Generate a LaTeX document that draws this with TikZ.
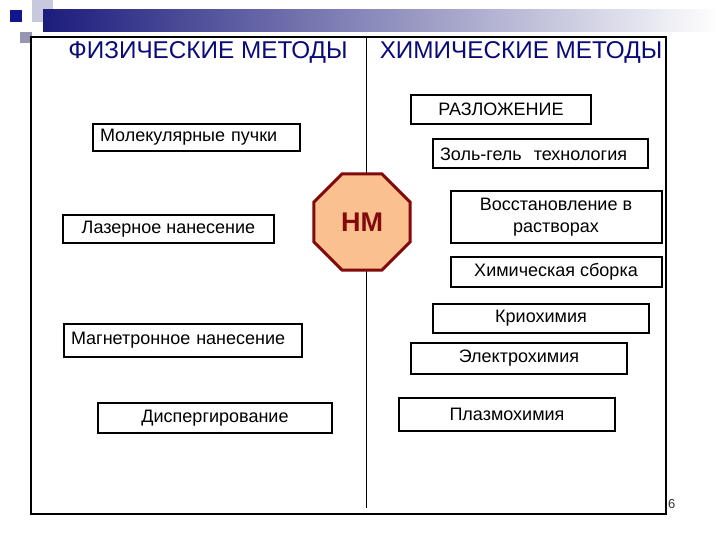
\documentclass[tikz,border=0pt]{standalone}
\usepackage{fontspec}
\setmainfont{Liberation Sans}
\usetikzlibrary{shapes.geometric}
\definecolor{navyt}{RGB}{10,10,120}
\definecolor{bardark}{RGB}{28,28,124}
\definecolor{sqdark}{RGB}{20,20,140}
\definecolor{sqlav}{RGB}{200,200,222}
\definecolor{sqgray}{RGB}{150,150,178}
\definecolor{octfill}{RGB}{250,192,144}
\definecolor{octline}{RGB}{130,10,10}
\tikzset{
  mbox/.style={draw=black, line width=2pt, inner sep=0pt, font=\fontsize{18}{21}\selectfont, align=center},
  lbox/.style={mbox, align=left},
  head/.style={font=\fontsize{24.3}{28}\selectfont, text=navyt, inner sep=0pt, anchor=base},
}
\begin{document}
\begin{tikzpicture}[x=1pt,y=-1pt]
\useasboundingbox (0,0) rectangle (720,540);
% decoration
\fill[sqlav] (32,0) rectangle (53,22);
\shade[left color=bardark, right color=white] (43,10) rectangle (720,32);
\fill[sqdark] (10,10) rectangle (22,22);
\fill[sqgray] (20,32) rectangle (32,43);
% frame and divider
\draw[line width=2pt] (31,37) rectangle (666,514);
\coordinate (dtop) at (366,37);
\coordinate (dbot) at (366,508);
\draw[line width=1pt] (dtop) -- (dbot);
% headings
\node[head] (hphys) at (208,59) {ФИЗИЧЕСКИЕ МЕТОДЫ};
\node[head] (hchem) at (521,59) {ХИМИЧЕСКИЕ МЕТОДЫ};
% left boxes
\node[lbox, minimum width=207pt, minimum height=27pt, text width=193pt] (mol) at (196.5,137.5) {Молекулярные пучки};
\node[mbox, minimum width=211pt, minimum height=28pt] (laz) at (168.5,229) {Лазерное нанесение};
\node[lbox, minimum width=238pt, minimum height=33pt, text width=224pt] (mag) at (183,340) {Магнетронное нанесение};
\node[mbox, minimum width=234pt, minimum height=30pt] (disp) at (215,418) {Диспергирование};
% right boxes
\node[mbox, minimum width=180pt, minimum height=29pt] (razl) at (501,109.5) {РАЗЛОЖЕНИЕ};
\node[lbox, minimum width=215pt, minimum height=29pt, text width=201pt] (zol) at (540.5,154) {Золь-гель\ \ технология};
\node[mbox, minimum width=211pt, minimum height=52pt] (vos) at (556,217) {Восстановление в\\[1pt]растворах};
\node[mbox, minimum width=211pt, minimum height=30pt] (sbor) at (556,272) {Химическая сборка};
\node[mbox, minimum width=216pt, minimum height=29pt] (krio) at (541,318.5) {Криохимия};
\node[mbox, minimum width=216pt, minimum height=31pt] (elec) at (519,358.5) {Электрохимия};
\node[mbox, minimum width=216pt, minimum height=33pt] (plaz) at (507,414.5) {Плазмохимия};
% octagon
\node[regular polygon, regular polygon sides=8, minimum size=104pt, inner sep=0pt,
      fill=octfill, draw=octline, line width=3pt, text=octline,
      font=\fontsize{27}{30}\selectfont\bfseries] (nm) at (362,222) {НМ};
% page number
\node[font=\fontsize{13}{15}\selectfont, inner sep=0pt, anchor=base west, text=black!80] (pnum) at (668,508) {6};
\end{tikzpicture}
\end{document}
